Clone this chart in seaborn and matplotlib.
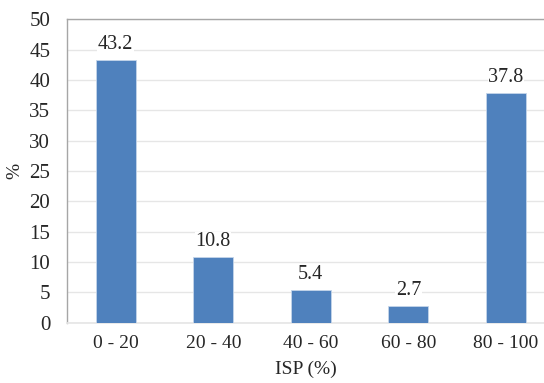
import matplotlib
matplotlib.use("Agg")
import matplotlib.pyplot as plt
import seaborn as sns
import pandas as pd

# data
categories = ["0 - 20", "20 - 40", "40 - 60", "60 - 80", "80 - 100"]
values = [43.2, 10.8, 5.4, 2.7, 37.8]
y_ticks = [0, 5, 10, 15, 20, 25, 30, 35, 40, 45, 50]

df = pd.DataFrame({"ISP": categories, "pct": values})

sns.set_theme(style="white")
plt.rcParams["font.family"] = ["Liberation Serif", "DejaVu Serif"]

fig = plt.figure(figsize=(5.44, 3.83), dpi=100)
ax = fig.add_axes([0.123, 0.157, 0.877, 0.793])

sns.barplot(data=df, x="ISP", y="pct", color="#4f81bd", saturation=1,
            width=0.41, edgecolor="#c5d5ea", linewidth=0.6, ax=ax, zorder=3)

ax.set_ylim(0, 50)
ax.set_yticks(y_ticks)
ax.set_xlim(-0.5, 4.39)
ax.yaxis.grid(True, color="#e6e6e6", linewidth=1.0, zorder=0)
ax.set_axisbelow(True)

for i, v in enumerate(values):
    ax.text(i, v + 1.0, f"{v}", ha="center", va="bottom", fontsize=14.5,
            color="#262626", zorder=4,
            bbox=dict(facecolor="white", edgecolor="none", pad=0.5))

for s in ["left", "top"]:
    ax.spines[s].set_color("#a6a6a6")
    ax.spines[s].set_linewidth(1.0)
ax.spines["right"].set_visible(False)
ax.spines["bottom"].set_color("#e6e6e6")

ax.tick_params(axis="x", labelsize=14, colors="#262626", length=0, pad=9)
ax.tick_params(axis="y", labelsize=15, colors="#262626", length=0, pad=12)
ax.set_xlabel("ISP (%)", fontsize=14, color="#262626", labelpad=6)
ax.set_ylabel("%", fontsize=14, color="#262626", labelpad=4)

fig.savefig("out.png", dpi=100)
